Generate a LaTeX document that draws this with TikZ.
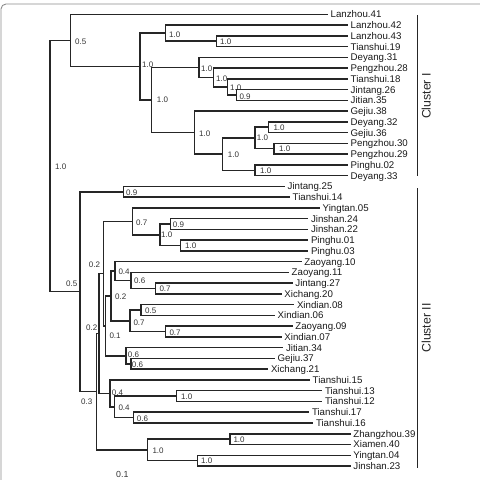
\documentclass[tikz,border=0pt]{standalone}
\usepackage{fontspec}
\setmainfont{Liberation Sans}
\usetikzlibrary{calc}
\tikzset{
  brl/.style={line width=1.5pt, draw=black!85},
  leaflab/.style={anchor=west, inner sep=0pt, xshift=2.5pt, font=\fontsize{9.7}{10}\selectfont, text height=6.9pt, text depth=0pt, text=black!90},
  bs/.style={anchor=west, inner sep=0pt, font=\fontsize{8}{9}\selectfont, text height=5.7pt, text depth=0pt, text=black!80},
  clubar/.style={line width=1.5pt, draw=black!85},
  clulab/.style={rotate=90, inner sep=0pt, font=\fontsize{12.3}{13}\selectfont, text height=8.8pt, text depth=0pt, text=black!85},
  frame/.style={draw=black!45, line width=0.9pt, rounded corners=5pt}
}
\newcommand{\lf}[3]{\coordinate (e#1) at (#2,{14.3+10.755*#1}); \node[leaflab] (l#1) at (e#1) {#3};}
\newcommand{\inode}[4]{\path let \p1=(#3), \p2=(#4) in (#2pt,{0.5*\y1+0.5*\y2}) coordinate (#1);}
\newcommand{\edg}[3]{\draw[brl] (#1) |- (#2); \draw[brl] (#1) |- (#3);}
\begin{document}
\begin{tikzpicture}[x=1pt,y=-1pt]
\useasboundingbox (0,0) rectangle (480,480);
\clip (0,0) rectangle (480,480);
\coordinate (f1) at (1,495);
\coordinate (f2) at (1,4);
\coordinate (f3) at (490,4);
\draw[frame] (f1) -- (f2) -- (f3);
% leaves
\lf{0}{328}{Lanzhou.41}
\lf{1}{348}{Lanzhou.42}
\lf{2}{348}{Lanzhou.43}
\lf{3}{348}{Tianshui.19}
\lf{4}{348}{Deyang.31}
\lf{5}{348}{Pengzhou.28}
\lf{6}{348}{Tianshui.18}
\lf{7}{348}{Jintang.26}
\lf{8}{348}{Jitian.35}
\lf{9}{348}{Gejiu.38}
\lf{10}{348}{Deyang.32}
\lf{11}{348}{Gejiu.36}
\lf{12}{348}{Pengzhou.30}
\lf{13}{348}{Pengzhou.29}
\lf{14}{348}{Pinghu.02}
\lf{15}{348}{Deyang.33}
\lf{16}{285}{Jintang.25}
\lf{17}{290}{Tianshui.14}
\lf{18}{320}{Yingtan.05}
\lf{19}{308.3}{Jinshan.24}
\lf{20}{308.3}{Jinshan.22}
\lf{21}{308.3}{Pinghu.01}
\lf{22}{308.3}{Pinghu.03}
\lf{23}{301.7}{Zaoyang.10}
\lf{24}{289}{Zaoyang.11}
\lf{25}{292.7}{Jintang.27}
\lf{26}{281.7}{Xichang.20}
\lf{27}{294.3}{Xindian.08}
\lf{28}{275}{Xindian.06}
\lf{29}{292.7}{Zaoyang.09}
\lf{30}{281.7}{Xindian.07}
\lf{31}{283.3}{Jitian.34}
\lf{32}{275}{Gejiu.37}
\lf{33}{268.3}{Xichang.21}
\lf{34}{310}{Tianshui.15}
\lf{35}{322.3}{Tianshui.13}
\lf{36}{322.3}{Tianshui.12}
\lf{37}{309.3}{Tianshui.17}
\lf{38}{313.3}{Tianshui.16}
\lf{39}{350.7}{Zhangzhou.39}
\lf{40}{350.7}{Xiamen.40}
\lf{41}{350.7}{Yingtan.04}
\lf{42}{350.7}{Jinshan.23}
% internal nodes, cluster I
\inode{E}{216.7}{e2}{e3}
\inode{C}{165.7}{e1}{E}
\inode{K}{236.7}{e7}{e8}
\inode{J}{227.7}{e6}{K}
\inode{I}{213.3}{e5}{J}
\inode{F}{199}{e4}{I}
\inode{O}{268.3}{e10}{e11}
\inode{P}{274}{e12}{e13}
\inode{M}{255}{O}{P}
\inode{N}{255}{e14}{e15}
\inode{L}{222.7}{M}{N}
\inode{H}{194.3}{e9}{L}
\inode{D}{151.7}{F}{H}
\inode{B}{140}{C}{D}
\inode{A}{70.7}{e0}{B}
% cluster II
\inode{S}{123.3}{e16}{e17}
\inode{V1}{170.7}{e19}{e20}
\inode{V2}{180.7}{e21}{e22}
\inode{V3}{160}{V1}{V2}
\inode{U}{132.3}{e18}{V3}
\inode{W1}{155.7}{e25}{e26}
\inode{W2}{131}{e24}{W1}
\inode{W3}{115}{e23}{W2}
\inode{X1}{141}{e27}{e28}
\inode{X2}{165.7}{e29}{e30}
\inode{X3}{130}{X1}{X2}
\inode{Y1}{111}{W3}{X3}
\inode{Z1}{131}{e32}{e33}
\inode{Z2}{126}{e31}{Z1}
\inode{Y2}{105.7}{Y1}{Z2}
\inode{AA}{103.3}{U}{Y2}
\inode{T1}{176.7}{e35}{e36}
\inode{T2}{133.3}{e37}{e38}
\inode{T3}{114.3}{T1}{T2}
\inode{T4}{110}{e34}{T3}
\inode{BB}{99}{AA}{T4}
\inode{G1}{230}{e39}{e40}
\inode{G2}{197.7}{e41}{e42}
\inode{G3}{147.7}{G1}{G2}
\inode{R}{96.7}{BB}{G3}
\inode{Q}{80}{S}{R}
\inode{root}{50}{A}{Q}
% branches
\edg{E}{e2}{e3}
\edg{C}{e1}{E}
\edg{K}{e7}{e8}
\edg{J}{e6}{K}
\edg{I}{e5}{J}
\edg{F}{e4}{I}
\edg{O}{e10}{e11}
\edg{P}{e12}{e13}
\edg{M}{O}{P}
\edg{N}{e14}{e15}
\edg{L}{M}{N}
\edg{H}{e9}{L}
\edg{D}{F}{H}
\edg{B}{C}{D}
\edg{A}{e0}{B}
\edg{S}{e16}{e17}
\edg{V1}{e19}{e20}
\edg{V2}{e21}{e22}
\edg{V3}{V1}{V2}
\edg{U}{e18}{V3}
\edg{W1}{e25}{e26}
\edg{W2}{e24}{W1}
\edg{W3}{e23}{W2}
\edg{X1}{e27}{e28}
\edg{X2}{e29}{e30}
\edg{X3}{X1}{X2}
\edg{Y1}{W3}{X3}
\edg{Z1}{e32}{e33}
\edg{Z2}{e31}{Z1}
\edg{Y2}{Y1}{Z2}
\edg{AA}{U}{Y2}
\edg{T1}{e35}{e36}
\edg{T2}{e37}{e38}
\edg{T3}{T1}{T2}
\edg{T4}{e34}{T3}
\edg{BB}{AA}{T4}
\edg{G1}{e39}{e40}
\edg{G2}{e41}{e42}
\edg{G3}{G1}{G2}
\edg{R}{BB}{G3}
\edg{Q}{S}{R}
\edg{root}{A}{Q}
% bootstrap values
\node[bs] (bA) at (75,41.7) {0.5};
\node[bs] (broot) at (55,167) {1.0};
\node[bs] (bB) at (142,65) {1.0};
\node[bs] (bC) at (169,34.3) {1.0};
\node[bs] (bE) at (220,41.7) {1.0};
\node[bs] (bF) at (201,68.3) {1.0};
\node[bs] (bI) at (216,79) {1.0};
\node[bs] (bJ) at (230,87.3) {1.0};
\node[bs] (bK) at (239.3,96.7) {0.9};
\node[bs] (bD) at (156.7,100) {1.0};
\node[bs] (bH) at (199,133.3) {1.0};
\node[bs] (bL) at (227.7,154.3) {1.0};
\node[bs] (bM) at (256.7,137.7) {1.0};
\node[bs] (bO) at (273.3,127.7) {1.0};
\node[bs] (bP) at (279,149) {1.0};
\node[bs] (bN) at (260,171) {1.0};
\node[bs] (bS) at (126,192.5) {0.9};
\node[bs] (bU) at (136,222.3) {0.7};
\node[bs] (bV1) at (172.7,225) {0.9};
\node[bs] (bV3) at (161,235) {1.0};
\node[bs] (bV2) at (185,246) {1.0};
\node[bs] (bAA) at (88.7,265) {0.2};
\node[bs] (bW3) at (118.3,271.7) {0.4};
\node[bs] (bW2) at (134,281) {0.6};
\node[bs] (bW1) at (159.3,289) {0.7};
\node[bs] (bY1) at (115,296.7) {0.2};
\node[bs] (bX1) at (145,310.7) {0.5};
\node[bs] (bX3) at (133.3,322.7) {0.7};
\node[bs] (bX2) at (169.3,332.3) {0.7};
\node[bs] (bBB) at (86,327.7) {0.2};
\node[bs] (bY2) at (109.3,335.7) {0.1};
\node[bs] (bQ) at (66,284) {0.5};
\node[bs] (bZ2) at (127.7,355) {0.6};
\node[bs] (bZ1) at (131.7,365) {0.6};
\node[bs] (bR) at (81,401.7) {0.3};
\node[bs] (bT4) at (111.7,392.7) {0.4};
\node[bs] (bT3) at (118.3,407.7) {0.4};
\node[bs] (bT1) at (181,396.7) {1.0};
\node[bs] (bT2) at (136.7,418.3) {0.6};
\node[bs] (bG1) at (233.3,439.3) {1.0};
\node[bs] (bG3) at (152.3,450.7) {1.0};
\node[bs] (bG2) at (201,461) {1.0};
\node[bs, font=\fontsize{8.8}{10}\selectfont] (scale) at (116,475) {0.1};
% clusters
\coordinate (c1t) at (417.7,15);
\coordinate (c1b) at (417.7,175.5);
\draw[clubar] (c1t) -- (c1b);
\node[clulab] (cl1) at (426.2,96) {Cluster I};
\coordinate (c2t) at (417.7,188.3);
\coordinate (c2b) at (417.7,468.3);
\draw[clubar] (c2t) -- (c2b);
\node[clulab] (cl2) at (426.2,328) {Cluster II};
\end{tikzpicture}
\end{document}
